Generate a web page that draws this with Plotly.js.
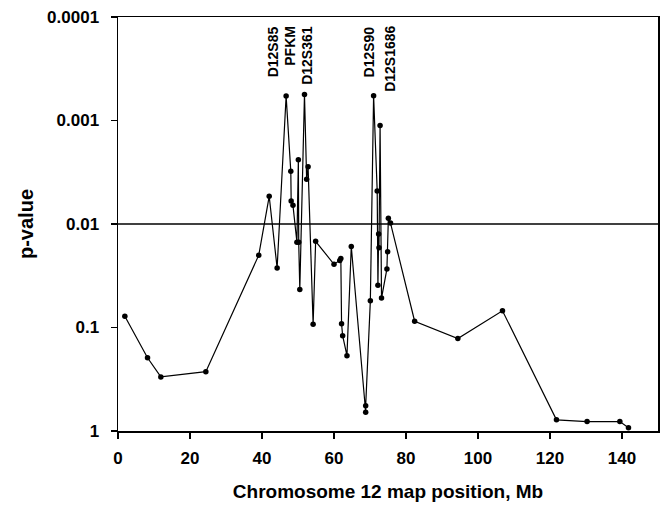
<!DOCTYPE html>
<html>
<head>
<meta charset="utf-8">
<script src="https://cdn.plot.ly/plotly-3.0.1.min.js"></script>
<style>
  html, body { margin: 0; padding: 0; background: #fff; }
  #chart { width: 663px; height: 521px; }
</style>
</head>
<body>
<div id="chart"></div>
<script>
// Marker positions on chromosome 12 (Mb)
const positionMb = [1.9, 8.2, 11.9, 24.4, 39.1, 42.0, 44.2, 46.7, 48.0, 48.1, 48.6, 49.7, 50.1, 50.2, 50.5,
  51.8, 52.4, 52.8, 54.2, 54.9, 60.0, 61.6, 61.9, 62.1, 62.4, 63.6, 64.8, 68.8, 68.8, 70.1, 71.0,
  72.0, 72.2, 72.4, 72.5, 72.8, 73.2, 74.7, 74.9, 75.1, 75.7, 82.4, 94.4, 106.8, 121.8, 130.3, 139.4, 141.8];
// p-values at each position
const pValue = [0.078, 0.196, 0.30, 0.267, 0.020, 0.0054, 0.0266, 0.00058, 0.0031, 0.0060, 0.0066, 0.015, 0.0024, 0.015, 0.043,
  0.00056, 0.0037, 0.0028, 0.093, 0.0147, 0.0245, 0.0225, 0.0215, 0.092, 0.12, 0.187, 0.0165, 0.66, 0.57, 0.055, 0.000575,
  0.0048, 0.039, 0.0125, 0.017, 0.00112, 0.052, 0.0272, 0.0185, 0.0088, 0.0098, 0.087, 0.128, 0.069, 0.78, 0.81, 0.81, 0.93];
// significance threshold
const threshold = 0.01;
const thresholdX = [0, 150];
// marker labels
const labelNames = ["D12S85", "PFKM", "D12S361", "D12S90", "D12S1686"];
const labelPos = [43.0, 47.7, 52.3, 69.7, 75.5];
// axis ticks
const yTickVals = [0.0001, 0.001, 0.01, 0.1, 1];
const yTickText = ["0.0001", "0.001", "0.01", "0.1", "1"];
const xTickVals = [0, 20, 40, 60, 80, 100, 120, 140];

const font = "Arial, 'Liberation Sans', sans-serif";

const traces = [
  {
    x: thresholdX, y: [threshold, threshold], mode: "lines", type: "scatter",
    line: { color: "#000", width: 1.3 }, hoverinfo: "skip", showlegend: false
  },
  {
    x: positionMb, y: pValue, mode: "lines+markers", type: "scatter",
    line: { color: "#000", width: 1.2 },
    marker: { color: "#000", size: 5.5 },
    showlegend: false
  }
];

const annotations = labelNames.map((t, i) => ({
  text: "<b>" + t + "</b>", x: labelPos[i], xref: "x", y: 0.983, yref: "paper",
  xanchor: "center", yanchor: "top", textangle: -90, showarrow: false,
  font: { family: font, size: 14, color: "#000" }
}));

const layout = {
  width: 663, height: 521,
  margin: { l: 118, r: 5, t: 17, b: 90 },
  paper_bgcolor: "#fff", plot_bgcolor: "#fff",
  showlegend: false,
  xaxis: {
    range: [0, 150], tickvals: xTickVals, ticks: "outside", ticklen: 6, tickwidth: 1.3,
    tickcolor: "#000", showline: true, linecolor: "#000", linewidth: 1.5, mirror: true,
    showgrid: false, zeroline: false, ticklabelstandoff: 5,
    tickfont: { family: font, size: 17, color: "#000", weight: "bold" },
    title: { text: "<b>Chromosome 12 map position, Mb</b>", font: { family: font, size: 19, color: "#000" }, standoff: 18 }
  },
  yaxis: {
    type: "log", range: [0, -4], tickvals: yTickVals, ticktext: yTickText,
    ticks: "outside", ticklen: 6, tickwidth: 1.3, tickcolor: "#000",
    showline: true, linecolor: "#000", linewidth: 1.5, mirror: true,
    showgrid: false, zeroline: false, ticklabelstandoff: 8,
    tickfont: { family: font, size: 17, color: "#000", weight: "bold" },
    title: { text: "<b>p-value</b>", font: { family: font, size: 20, color: "#000" }, standoff: 8 }
  },
  annotations: annotations
};

Plotly.newPlot("chart", traces, layout, { displayModeBar: false, staticPlot: true });
</script>
</body>
</html>
